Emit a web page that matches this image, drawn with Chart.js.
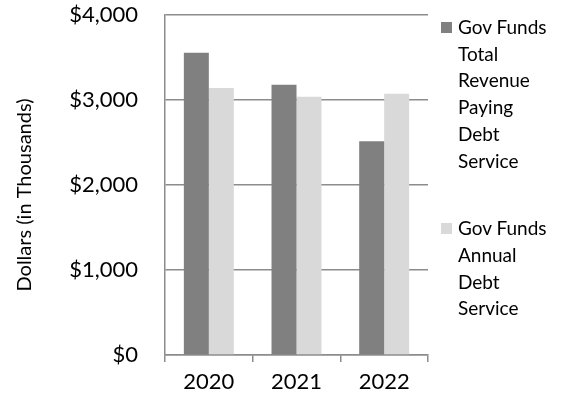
<!DOCTYPE html>
<html>
<head>
<meta charset="utf-8">
<script src="https://cdn.jsdelivr.net/npm/chart.js@4.4.1/dist/chart.umd.min.js"></script>
<style>
  html, body { margin: 0; padding: 0; background: #fff; }
  #wrap { position: relative; width: 561px; height: 406px; }
  #legend { position: absolute; left: 441px; top: 14px; font-family: Lato, sans-serif; font-size: 19px; color: #000; line-height: 26.7px; }
  .item { position: relative; padding-left: 17px; margin-bottom: 41px; }
  .sw { position: absolute; left: 0; top: 8px; width: 11px; height: 11px; }
</style>
</head>
<body>
<div id="wrap">
  <canvas id="c" width="561" height="406"></canvas>
  <div id="legend"></div>
</div>
<script>
const categories = ['2020', '2021', '2022'];
const seriesNames = ['Gov Funds Total Revenue Paying Debt Service', 'Gov Funds Annual Debt Service'];
const legendLines = [['Gov Funds', 'Total', 'Revenue', 'Paying', 'Debt', 'Service'], ['Gov Funds', 'Annual', 'Debt', 'Service']];
const totalRevenuePayingDebt = [3556, 3180, 2514];
const annualDebtService = [3141, 3039, 3074];
const yTicks = [0, 1000, 2000, 3000, 4000];
const yAxisTitle = 'Dollars (in Thousands)';
const colors = ['#808080', '#d9d9d9'];

const gridColor = '#8c8c8c';

const yTitlePlugin = {
  id: 'yTitle',
  afterDraw(chart) {
    const ctx = chart.ctx;
    ctx.save();
    ctx.translate(25, 195);
    ctx.rotate(-Math.PI / 2);
    ctx.font = '20px Lato';
    ctx.fillStyle = '#000';
    ctx.textAlign = 'center';
    ctx.textBaseline = 'middle';
    ctx.fillText(yAxisTitle, 0, 0);
    ctx.restore();
  }
};

const chart = new Chart(document.getElementById('c'), {
  type: 'bar',
  data: {
    labels: categories,
    datasets: [
      { label: seriesNames[0], data: totalRevenuePayingDebt, backgroundColor: colors[0] },
      { label: seriesNames[1], data: annualDebtService, backgroundColor: colors[1] }
    ]
  },
  plugins: [yTitlePlugin],
  options: {
    responsive: false,
    animation: false,
    devicePixelRatio: 1,
    layout: { padding: { top: 15, right: 133, left: 0, bottom: 0 } },
    datasets: { bar: { categoryPercentage: 0.57, barPercentage: 1.0 } },
    plugins: { legend: { display: false }, tooltip: { enabled: false } },
    scales: {
      x: {
        offset: true,
        grid: { offset: true, drawOnChartArea: false, drawTicks: true, tickLength: 7, color: gridColor, lineWidth: 1.5 },
        border: { color: gridColor, width: 1.5 },
        ticks: { color: '#000', font: { family: 'Lato', size: 22 }, padding: 7 },
        afterFit: s => { s.height = 51; s.paddingLeft = 0; s.paddingRight = 0; }
      },
      y: {
        min: 0, max: 4000,
        afterBuildTicks: s => { s.ticks = yTicks.map(v => ({ value: v })); },
        grid: { color: gridColor, lineWidth: 1.5, drawTicks: false },
        border: { color: gridColor, width: 1.5 },
        ticks: { color: '#000', font: { family: 'Lato', size: 22 }, padding: 27,
          callback: v => '$' + v.toLocaleString('en-US') },
        title: { display: false },
        afterFit: s => { s.width = 165; s.paddingTop = 0; s.paddingBottom = 0; }
      }
    }
  }
});

const lg = document.getElementById('legend');
legendLines.forEach((lines, i) => {
  const d = document.createElement('div');
  d.className = 'item';
  d.innerHTML = '<span class="sw" style="background:' + colors[i] + '"></span>' + lines.join('<br>');
  lg.appendChild(d);
});
</script>
</body>
</html>
